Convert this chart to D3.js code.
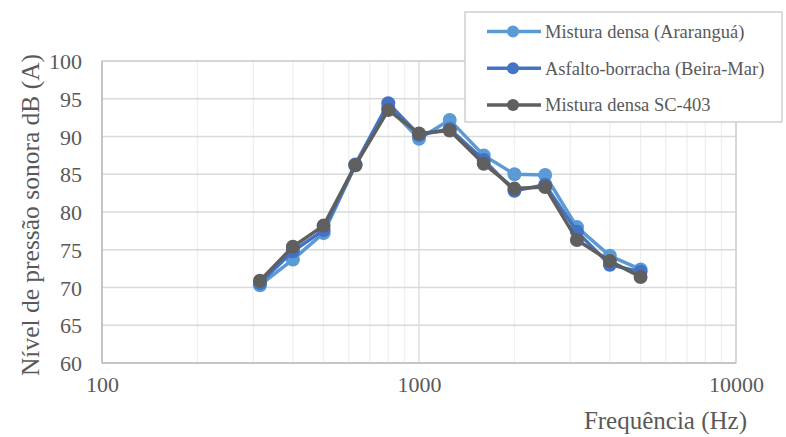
<!DOCTYPE html>
<html><head><meta charset="utf-8">
<script src="https://cdn.jsdelivr.net/npm/d3@7"></script>
<style>body{margin:0;background:#fff}svg{display:block}</style>
</head><body><svg id="c" width="786" height="437"></svg>
<script>
const freqs = [315, 400, 500, 630, 800, 1000, 1250, 1600, 2000, 2500, 3150, 4000, 5000];
const ararangua = [70.3, 73.7, 77.2, 86.2, 93.9, 89.7, 92.2, 87.5, 85.0, 84.9, 78.0, 74.2, 72.4];
const beiraMar = [70.6, 74.8, 77.6, 86.3, 94.4, 90.2, 91.0, 86.9, 82.8, 83.6, 77.4, 73.0, 72.1];
const sc403 = [70.9, 75.4, 78.2, 86.2, 93.5, 90.4, 90.8, 86.4, 83.1, 83.3, 76.3, 73.5, 71.4];
const seriesNames = ["Mistura densa (Ararangu\u00e1)", "Asfalto-borracha (Beira-Mar)", "Mistura densa SC-403"];
const seriesColors = ["#5B9BD5", "#4472C4", "#5f5f5f"];
const yTicks = [60, 65, 70, 75, 80, 85, 90, 95, 100];
const xTicks = [100, 1000, 10000];
const xTitle = "Frequ\u00eancia (Hz)";
const yTitle = "N\u00edvel de press\u00e3o sonora dB (A)";

const FONT = "'Liberation Serif', 'Times New Roman', Times, serif";
const svg = d3.select("#c");
const L = 102, R = 736, T = 61, B = 363;
const x = d3.scaleLog().domain([100, 10000]).range([L, R]);
const y = d3.scaleLinear().domain([60, 100]).range([B, T]);

const minor = [];
for (let d = 100; d < 10000; d *= 10) for (let k = 2; k <= 9; k++) minor.push(d * k);
svg.append("g").selectAll("line").data(minor).join("line")
  .attr("x1", d => x(d)).attr("x2", d => x(d)).attr("y1", T).attr("y2", B)
  .attr("stroke", "#efefef").attr("stroke-width", 1.3);
svg.append("g").selectAll("line").data(yTicks).join("line")
  .attr("x1", L).attr("x2", R).attr("y1", d => y(d)).attr("y2", d => y(d))
  .attr("stroke", "#d9d9d9").attr("stroke-width", 1.3);
svg.append("g").selectAll("line").data(xTicks).join("line")
  .attr("x1", d => x(d)).attr("x2", d => x(d)).attr("y1", T).attr("y2", B)
  .attr("stroke", "#d9d9d9").attr("stroke-width", 1.3);
svg.append("rect").attr("x", L).attr("y", T).attr("width", R - L).attr("height", B - T)
  .attr("fill", "none").attr("stroke", "#d0d0d0").attr("stroke-width", 1.3);
svg.append("line").attr("x1", L).attr("x2", L).attr("y1", T).attr("y2", B).attr("stroke", "#bfbfbf").attr("stroke-width", 1.5);
svg.append("line").attr("x1", L).attr("x2", R).attr("y1", B).attr("y2", B).attr("stroke", "#bfbfbf").attr("stroke-width", 1.5);

const yAxis = svg.append("g").attr("transform", `translate(${L},0)`)
  .call(d3.axisLeft(y).tickValues(yTicks).tickSize(0).tickPadding(20));
yAxis.attr("font-family", null).attr("font-size", null);
yAxis.select(".domain").remove();
yAxis.selectAll("text").style("font-family", FONT).style("font-size", "22px").style("fill", "#595959").attr("dy", "0.35em");
const xAxis = svg.append("g").attr("transform", `translate(0,${B})`)
  .call(d3.axisBottom(x).tickValues(xTicks).tickFormat(d3.format("d")).tickSize(0).tickPadding(13));
xAxis.attr("font-family", null).attr("font-size", null);
xAxis.select(".domain").remove();
xAxis.selectAll("text").style("font-family", FONT).style("font-size", "22px").style("fill", "#595959");

svg.append("text").attr("x", 747).attr("y", 429).attr("text-anchor", "end")
  .style("font-family", FONT).style("font-size", "25px").style("fill", "#595959").text(xTitle);
svg.append("text").attr("transform", `translate(39,${(T + B) / 2 + 3}) rotate(-90)`).attr("text-anchor", "middle")
  .style("font-family", FONT).style("font-size", "25.5px").style("fill", "#595959").text(yTitle);

const all = [ararangua, beiraMar, sc403];
const line = d3.line().x((d, i) => x(freqs[i])).y(d => y(d));
all.forEach((vals, si) => {
  const g = svg.append("g");
  g.append("path").datum(vals).attr("d", line).attr("fill", "none")
    .attr("stroke", seriesColors[si]).attr("stroke-width", 3.5).attr("stroke-linejoin", "round");
  g.selectAll("circle").data(vals).join("circle")
    .attr("cx", (d, i) => x(freqs[i])).attr("cy", d => y(d)).attr("r", 7)
    .attr("fill", seriesColors[si]);
});

const lg = svg.append("g");
lg.append("rect").attr("x", 465).attr("y", 12).attr("width", 317).attr("height", 110)
  .attr("fill", "#fff").attr("stroke", "#d0d0d0").attr("stroke-width", 1.5);
seriesNames.forEach((n, i) => {
  const yy = 31.5 + i * 36.7;
  lg.append("line").attr("x1", 487).attr("x2", 541).attr("y1", yy).attr("y2", yy)
    .attr("stroke", seriesColors[i]).attr("stroke-width", 3.5);
  lg.append("circle").attr("cx", 513).attr("cy", yy).attr("r", 6).attr("fill", seriesColors[i]);
  lg.append("text").attr("x", 545).attr("y", yy).attr("dy", "0.35em")
    .style("font-family", FONT).style("font-size", "18.5px").style("fill", "#595959").text(n);
});
</script></body></html>
